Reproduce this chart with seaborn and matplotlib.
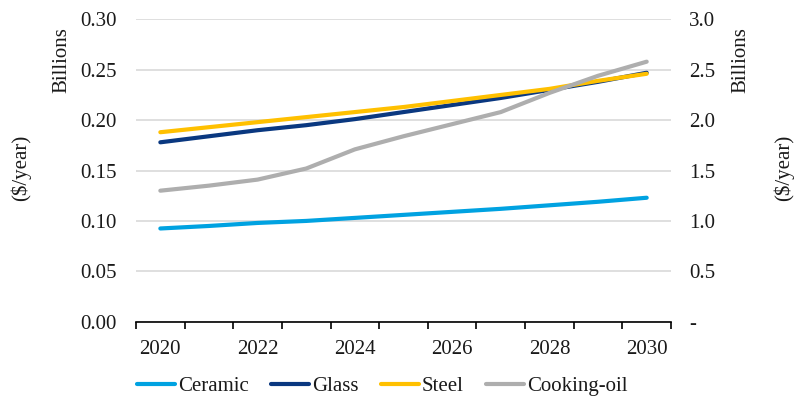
import matplotlib
matplotlib.use("Agg")
import matplotlib.pyplot as plt
import matplotlib.ticker as mticker
from matplotlib.lines import Line2D
import numpy as np
import pandas as pd
import seaborn as sns

# Annual cost by sector, billions of $/year
years = [2020, 2021, 2022, 2023, 2024, 2025, 2026, 2027, 2028, 2029, 2030]
ceramic = [0.0925, 0.095, 0.098, 0.100, 0.103, 0.106, 0.109, 0.112, 0.1155, 0.119, 0.123]
glass = [0.178, 0.184, 0.190, 0.195, 0.201, 0.208, 0.215, 0.222, 0.230, 0.238, 0.247]
steel = [0.188, 0.193, 0.198, 0.203, 0.208, 0.213, 0.219, 0.225, 0.231, 0.239, 0.246]
# Cooking-oil is read on the secondary axis
cooking_oil = [1.30, 1.35, 1.41, 1.52, 1.71, 1.84, 1.96, 2.08, 2.27, 2.44, 2.58]

series_names = ["Ceramic", "Glass", "Steel", "Cooking-oil"]
colors = {"Ceramic": "#00A2E1", "Glass": "#0A3880", "Steel": "#FFC000", "Cooking-oil": "#AEAEAE"}
left_ticks = [0.00, 0.05, 0.10, 0.15, 0.20, 0.25, 0.30]
right_ticks = [0.0, 0.5, 1.0, 1.5, 2.0, 2.5, 3.0]
year_labels = [2020, 2022, 2024, 2026, 2028, 2030]

sns.set_theme(style="white")
plt.rcParams["font.family"] = ["Liberation Serif", "DejaVu Serif"]

FS = 15
TXT = "#1a1a1a"

pos = list(range(len(years)))
left_df = pd.DataFrame({
    "pos": pos * 3,
    "value": ceramic + glass + steel,
    "series": ["Ceramic"] * len(years) + ["Glass"] * len(years) + ["Steel"] * len(years),
})
right_df = pd.DataFrame({"pos": pos, "value": cooking_oil, "series": ["Cooking-oil"] * len(years)})

fig = plt.figure(figsize=(7.94, 4.03), dpi=100)
ax = fig.add_axes([0.1713, 0.2017, 0.6738, 0.7503])

lw = 3.0
sns.lineplot(data=left_df, x="pos", y="value", hue="series", palette=colors,
             linewidth=lw, ax=ax, legend=False, solid_capstyle="round")
ax.set_ylim(0, 0.30)
ax.set_xlim(-0.5, len(years) - 0.5)
ax.set_yticks(left_ticks)
ax.yaxis.set_major_formatter(mticker.FormatStrFormatter("%.2f"))
ax.grid(axis="y", color="#D9D9D9", linewidth=1.2)
ax.set_axisbelow(True)

ax2 = ax.twinx()
sns.lineplot(data=right_df, x="pos", y="value", hue="series", palette=colors,
             linewidth=lw, ax=ax2, legend=False, solid_capstyle="round")
ax2.set_ylim(0, 3.0)
ax2.set_yticks(right_ticks)
ax2.yaxis.set_major_formatter(mticker.FuncFormatter(lambda v, p: "-" if abs(v) < 1e-9 else f"{v:.1f}"))
ax2.set_xlim(-0.5, len(years) - 0.5)

for a in (ax, ax2):
    for side in ("top", "left", "right"):
        a.spines[side].set_visible(False)
    a.set_xlabel("")
    a.set_ylabel("")
ax.spines["bottom"].set_color("black")
ax.spines["bottom"].set_linewidth(1.2)
ax2.spines["bottom"].set_visible(False)

# Category boundaries carry the tick marks; labels sit at every other category
ax.set_xticks(np.arange(-0.5, len(years), 1.0))
ax.set_xticklabels([])
ax.tick_params(axis="x", which="major", direction="out", length=5, width=1.2, color="black", bottom=True)
label_pos = [years.index(y) for y in year_labels]
ax.set_xticks(label_pos, minor=True)
ax.set_xticklabels([str(y) for y in year_labels], minor=True)
ax.tick_params(axis="x", which="minor", length=0, pad=13, labelsize=FS, labelcolor=TXT)

ax.tick_params(axis="y", length=0, pad=14, labelsize=FS, labelcolor=TXT)
ax2.tick_params(axis="y", length=0, pad=13, labelsize=FS, labelcolor=TXT)

text_kw = dict(rotation=90, ha="center", va="center", fontsize=FS, color=TXT)
fig.text(62 / 794, 1 - 60 / 403, "Billions", **text_kw)
fig.text(21 / 794, 1 - 168 / 403, "($/year)", **text_kw)
fig.text(741 / 794, 1 - 60 / 403, "Billions", **text_kw)
fig.text(784 / 794, 1 - 168 / 403, "($/year)", **text_kw)

handles = [Line2D([0], [0], color=colors[n], linewidth=lw, solid_capstyle="round") for n in series_names]
fig.legend(handles, series_names, loc="center", bbox_to_anchor=(382 / 794, 1 - 386 / 403),
           ncol=4, frameon=False, fontsize=FS, handlelength=1.85, handletextpad=0.12,
           columnspacing=1.07, labelcolor=TXT)

fig.savefig("out.png", dpi=100)
